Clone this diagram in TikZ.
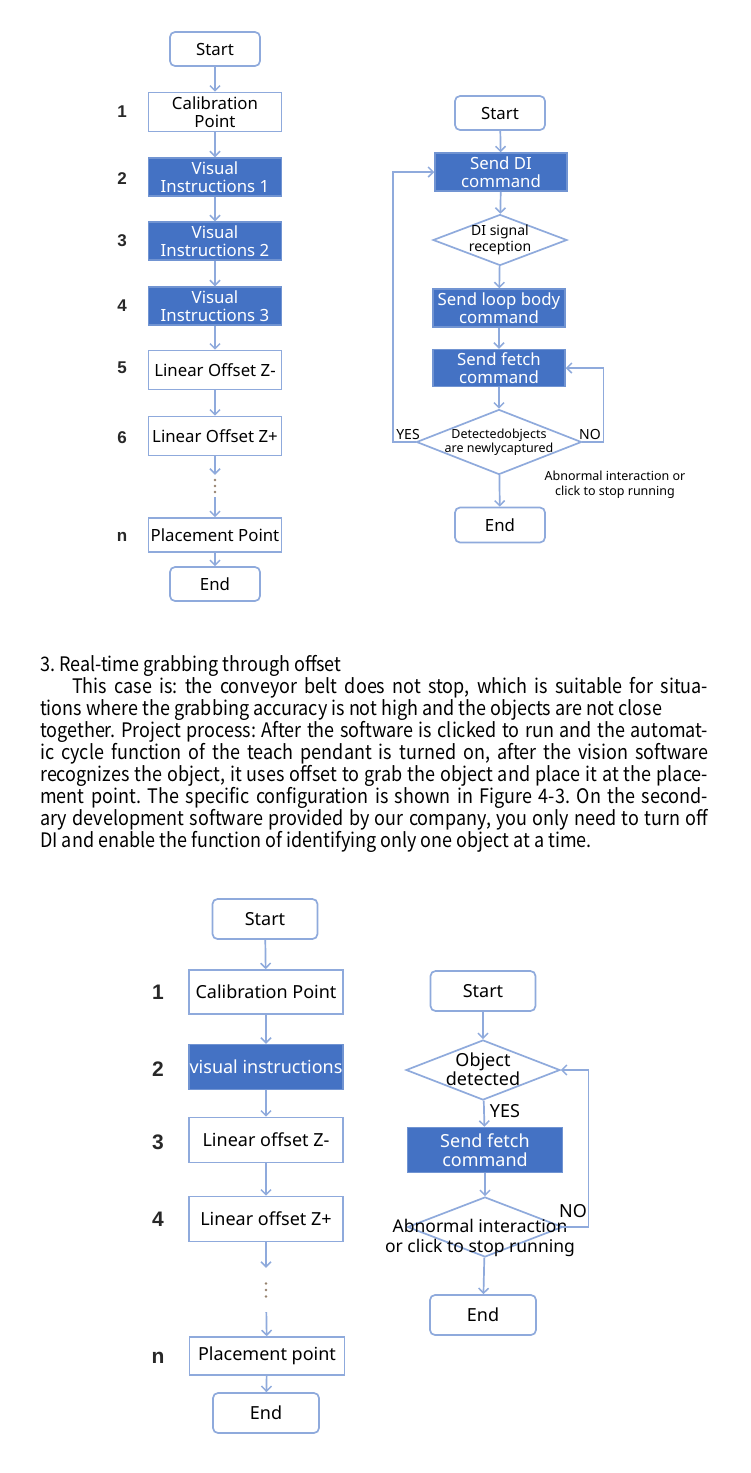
\documentclass[tikz,border=0pt]{standalone}
\usepackage{fontspec}
\setmainfont{Noto Sans}
\newfontfamily\parafont[FakeStretch=0.9]{Noto Sans CJK SC}
\newfontfamily\numfont{Liberation Sans}
\usetikzlibrary{shapes.geometric,arrows.meta,positioning}
\definecolor{lblue}{RGB}{143,170,220}
\definecolor{dblue}{RGB}{68,114,196}
\definecolor{numcol}{RGB}{40,40,40}
\definecolor{dotcol}{RGB}{150,130,110}
\frenchspacing
\begin{document}
\begin{tikzpicture}[x=1pt,y=-1pt,
  ln/.style={draw=lblue,line width=1.7pt},
  arr/.style={ln,-{Straight Barb[length=5pt,width=10pt,line width=1.5pt]}},
  proc/.style={rectangle,draw=lblue,fill=white,line width=1.7pt,inner sep=0pt,align=center},
  fproc/.style={rectangle,draw=lblue!60!dblue,fill=dblue,text=white,line width=1.5pt,inner sep=0pt,align=center},
  term/.style={proc,rounded corners=5pt},
  dia/.style={diamond,draw=lblue,line width=1.7pt,inner sep=0pt},
  gap/.style={inner sep=0pt,minimum width=4pt},
  numA/.style={font=\numfont\bfseries\fontsize{17}{17}\selectfont,text=numcol},
  numB/.style={font=\numfont\bfseries\fontsize{21}{21}\selectfont,text=numcol},
  fA/.style={font=\fontsize{16.8}{18.5}\selectfont},
  fB/.style={font=\fontsize{18}{19.5}\selectfont},
  lbl/.style={inner sep=0pt,align=center},
  para/.style={anchor=base west,inner sep=0pt,font=\parafont\fontsize{20}{22}\selectfont}
]
\useasboundingbox (0,0) rectangle (750,1473);
\fill[white] (0,0) rectangle (750,1473);

% ---------- top-left flowchart ----------
\node[term,fA,minimum width=90pt,minimum height=34pt] (tlS) at (215,49) {Start};
\node[proc,fA,minimum width=133pt,minimum height=39pt] (tl1) at (215,112) {Calibration\\Point};
\node[fproc,fA,minimum width=133pt,minimum height=38pt] (tl2) at (215,177) {Visual\\Instructions 1};
\node[fproc,fA,minimum width=133pt,minimum height=38pt] (tl3) at (215,241) {Visual\\Instructions 2};
\node[fproc,fA,minimum width=133pt,minimum height=38pt] (tl4) at (215,306) {Visual\\Instructions 3};
\node[proc,fA,minimum width=133pt,minimum height=39pt] (tl5) at (215,370) {Linear Offset Z-};
\node[proc,fA,minimum width=133pt,minimum height=39pt] (tl6) at (215,436) {Linear Offset Z+};
\node[gap,minimum height=22pt] (tld) at (215,486) {};
\foreach \yy in {-6,0,6} \fill[dotcol] ([yshift=\yy]tld.center) circle (1.3pt);
\node[proc,fA,minimum width=133pt,minimum height=34pt] (tl7) at (215,535) {Placement Point};
\node[term,fA,minimum width=90pt,minimum height=34pt] (tlE) at (215,584) {End};
\draw[arr] (tlS) -- (tl1);
\draw[arr] (tl1) -- (tl2);
\draw[arr] (tl2) -- (tl3);
\draw[arr] (tl3) -- (tl4);
\draw[arr] (tl4) -- (tl5);
\draw[arr] (tl5) -- (tl6);
\draw[arr] (tl6) -- (tld);
\draw[arr] (tld) -- (tl7);
\draw[arr] (tl7) -- (tlE);
\node[numA] (tn1) at (122,112) {1};
\node[numA] (tn2) at (122,179) {2};
\node[numA] (tn3) at (122,241) {3};
\node[numA] (tn4) at (122,306) {4};
\node[numA] (tn5) at (122,368) {5};
\node[numA] (tn6) at (122,438) {6};
\node[numA] (tnn) at (122,537) {n};

% ---------- top-right flowchart ----------
\node[term,fA,minimum width=90pt,minimum height=34pt] (trS) at (500,113) {Start};
\node[fproc,fA,minimum width=132pt,minimum height=38pt] (tr1) at (501,172) {Send DI\\command};
\node[dia,minimum width=134pt,minimum height=51pt] (tr2) at (500,240) {};
\node[lbl,font=\fontsize{14}{16}\selectfont] (tr2t) at (500,240) {DI signal\\reception};
\node[fproc,fA,minimum width=132pt,minimum height=38pt] (tr3) at (499,308) {Send loop body\\command};
\node[fproc,fA,minimum width=132pt,minimum height=37pt] (tr4) at (499,368) {Send fetch\\command};
\node[dia,minimum width=165pt,minimum height=65pt] (tr5) at (499,442) {};
\node[lbl,font=\fontsize{12.5}{14.5}\selectfont] (tr5t) at (499,442) {Detectedobjects\\are newlycaptured};
\node[term,fA,minimum width=90pt,minimum height=35pt] (trE) at (500,525) {End};
\draw[arr] (trS) -- (tr1);
\draw[arr] (tr1) -- (tr2);
\draw[arr] (tr2) -- (tr3);
\draw[arr] (tr3) -- (tr4);
\draw[arr] (tr4) -- (tr5);
\draw[arr] (tr5) -- (trE);
\draw[arr] (tr5.west) -- ++(-23,0) |- (tr1.west);
\draw[arr] (tr5.east) -- ++(21,0) |- (tr4.east);
\node[lbl,font=\fontsize{14}{14}\selectfont] (tryes) at (408,434) {YES};
\node[lbl,font=\fontsize{14}{14}\selectfont] (trno) at (590,434) {NO};
\node[lbl,font=\fontsize{12.5}{15}\selectfont] (trab) at (615,485) {Abnormal interaction or\\click to stop running};

% ---------- paragraph ----------
\node[para] (p1) at (40,671) {3. Real-time grabbing through offset};
\node[para] (p2) at (72,693) {\makebox[636pt][s]{This case is: the conveyor belt does not stop, which is suitable for situa-}};
\node[para] (p3) at (40,715) {tions where the grabbing accuracy is not high and the objects are not close};
\node[para] (p4) at (40,737) {\makebox[668pt][s]{together. Project process: After the software is clicked to run and the automat-}};
\node[para] (p5) at (40,759) {\makebox[668pt][s]{ic cycle function of the teach pendant is turned on, after the vision software}};
\node[para] (p6) at (40,781) {\makebox[668pt][s]{recognizes the object, it uses offset to grab the object and place it at the place-}};
\node[para] (p7) at (40,803) {\makebox[668pt][s]{ment point. The specific configuration is shown in Figure 4-3. On the second-}};
\node[para] (p8) at (40,825) {\makebox[668pt][s]{ary development software provided by our company, you only need to turn off}};
\node[para] (p9) at (40,847) {DI and enable the function of identifying only one object at a time.};

% ---------- bottom-left flowchart ----------
\node[term,fB,minimum width=105pt,minimum height=40pt] (blS) at (265,919) {Start};
\node[proc,fB,minimum width=154pt,minimum height=44pt] (bl1) at (266,992) {Calibration Point};
\node[fproc,fB,minimum width=154pt,minimum height=45pt] (bl2) at (266,1067) {visual instructions};
\node[proc,fB,minimum width=154pt,minimum height=45pt] (bl3) at (266,1140) {Linear offset Z-};
\node[proc,fB,minimum width=154pt,minimum height=45pt] (bl4) at (266,1219) {Linear offset Z+};
\node[gap,minimum height=44pt] (bld) at (266,1290) {};
\foreach \yy in {-6.5,0,6.5} \fill[dotcol] ([yshift=\yy]bld.center) circle (1.4pt);
\node[proc,fB,minimum width=155pt,minimum height=38pt] (bl5) at (267,1356) {Placement point};
\node[term,fB,minimum width=106pt,minimum height=40pt] (blE) at (266,1413) {End};
\draw[arr] (blS) -- (bl1);
\draw[arr] (bl1) -- (bl2);
\draw[arr] (bl2) -- (bl3);
\draw[arr] (bl3) -- (bl4);
\draw[arr] (bl4) -- (bld);
\draw[arr] (bld) -- (bl5);
\draw[arr] (bl5) -- (blE);
\node[numB] (bn1) at (158,992) {1};
\node[numB] (bn2) at (158,1069) {2};
\node[numB] (bn3) at (158,1142) {3};
\node[numB] (bn4) at (158,1219) {4};
\node[numB] (bnn) at (158,1358) {n};

% ---------- bottom-right flowchart ----------
\node[term,fB,minimum width=105pt,minimum height=40pt] (brS) at (483,991) {Start};
\node[dia,minimum width=154pt,minimum height=60pt] (brD1) at (483,1070) {};
\node[lbl,font=\fontsize{18}{19.5}\selectfont] (brD1t) at (483,1069) {Object\\detected};
\node[fproc,fB,minimum width=155pt,minimum height=45pt] (brF) at (485,1150) {Send fetch\\command};
\node[dia,minimum width=155pt,minimum height=60pt] (brD2) at (485,1227) {};
\node[lbl,font=\fontsize{17.5}{19.5}\selectfont] (brD2t) at (480,1238) {Abnormal interaction\\or click to stop running};
\node[term,fB,minimum width=106pt,minimum height=40pt] (brE) at (483,1315) {End};
\draw[arr] (brS) -- (brD1);
\draw[arr] (brD1) -- (brF);
\draw[arr] (brF) -- (brD2);
\draw[arr] (brD2) -- (brE);
\draw[arr] (brD2.east) -- ++(25,0) |- (brD1.east);
\node[lbl,font=\fontsize{18}{18}\selectfont] (bryes) at (505,1111) {YES};
\node[lbl,font=\fontsize{18}{18}\selectfont] (brno) at (573,1211) {NO};
\end{tikzpicture}
\end{document}
